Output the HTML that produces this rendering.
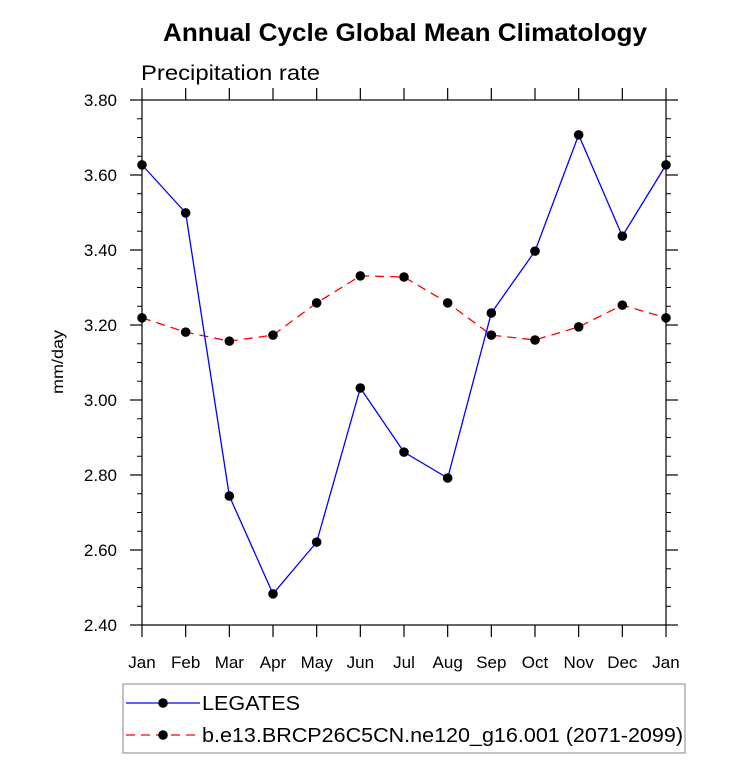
<!DOCTYPE html>
<html><head><meta charset="utf-8"><style>
body{margin:0;background:#fff}
svg text{font-family:"Liberation Sans",sans-serif}
</style></head><body>
<svg id="chart" width="733" height="759" xmlns="http://www.w3.org/2000/svg">
<text x="163" y="41" font-size="25" font-weight="bold" textLength="484" lengthAdjust="spacingAndGlyphs">Annual Cycle Global Mean Climatology</text>
<text x="141" y="80" font-size="21" textLength="179" lengthAdjust="spacingAndGlyphs">Precipitation rate</text>
<text transform="translate(63,362) rotate(-90)" font-size="16" text-anchor="middle" textLength="64" lengthAdjust="spacingAndGlyphs">mm/day</text>
<g id="axes"></g>
<g id="series"></g>
<g>
<rect x="123" y="684" width="562" height="69" fill="none" stroke="#999" stroke-width="1.2"/>
<line x1="126" y1="703" x2="200" y2="703" stroke="#0000ff" stroke-width="1.3"/>
<circle cx="163" cy="703" r="4.8" fill="#000"/>
<text x="202" y="710" font-size="20" textLength="98" lengthAdjust="spacingAndGlyphs">LEGATES</text>
<line x1="126" y1="735" x2="200" y2="735" stroke="#ff0000" stroke-width="1.3" stroke-dasharray="9,6"/>
<circle cx="163" cy="735" r="4.8" fill="#000"/>
<text x="202" y="742" font-size="20" textLength="481" lengthAdjust="spacingAndGlyphs">b.e13.BRCP26C5CN.ne120_g16.001 (2071-2099)</text>
</g>
</svg>
<script>
const months=["Jan","Feb","Mar","Apr","May","Jun","Jul","Aug","Sep","Oct","Nov","Dec","Jan"];
const legates=[3.627,3.499,2.744,2.483,2.621,3.032,2.861,2.792,3.232,3.397,3.707,3.437,3.627];
const model=[3.219,3.181,3.157,3.173,3.259,3.331,3.328,3.259,3.173,3.160,3.195,3.253,3.219];
const yTicks=[2.40,2.60,2.80,3.00,3.20,3.40,3.60,3.80];
const NS="http://www.w3.org/2000/svg";
const X0=142,X1=666,Y0=625,Y1=100,YMIN=2.4,YMAX=3.8;
const xs=i=>X0+(X1-X0)*i/(months.length-1);
const ys=v=>Y0-(v-YMIN)/(YMAX-YMIN)*(Y0-Y1);
function mk(tag,attrs,parent){const e=document.createElementNS(NS,tag);for(const k in attrs)e.setAttribute(k,attrs[k]);parent.appendChild(e);return e;}
const ax=document.getElementById('axes');
const frame=mk('rect',{x:X0,y:Y1,width:X1-X0,height:Y0-Y1,fill:'none',stroke:'#000','stroke-width':1.2},ax);


yTicks.forEach(v=>{
 const y=ys(v);
 mk('line',{x1:X0-12,y1:y,x2:X0,y2:y,stroke:'#000','stroke-width':1.2},ax);
 mk('line',{x1:X1,y1:y,x2:X1+12,y2:y,stroke:'#000','stroke-width':1.2},ax);
 const t=mk('text',{x:117,y:y+6,'font-size':17,'text-anchor':'end'},ax);
 t.textContent=v.toFixed(2);
 
 
});
for(let v=YMIN;v<YMAX-1e-6;v+=0.05){
 const y=ys(v);
 mk('line',{x1:X0-5,y1:y,x2:X0,y2:y,stroke:'#000','stroke-width':1},ax);
 mk('line',{x1:X1,y1:y,x2:X1+5,y2:y,stroke:'#000','stroke-width':1},ax);
}
months.forEach((m,i)=>{
 const x=xs(i);
 mk('line',{x1:x,y1:Y0,x2:x,y2:Y0+12,stroke:'#000','stroke-width':1.2},ax);
 mk('line',{x1:x,y1:Y1-12,x2:x,y2:Y1,stroke:'#000','stroke-width':1.2},ax);
 const t=mk('text',{x:x,y:668,'font-size':17,'text-anchor':'middle'},ax);
 t.textContent=m;
 
 
});
const sg=document.getElementById('series');
function series(vals,color,dash,name){
 const p=mk('polyline',{points:vals.map((v,i)=>xs(i)+','+ys(v)).join(' '),fill:'none',stroke:color,'stroke-width':1.3,'stroke-dasharray':dash},sg);
 
 
 vals.forEach((v,i)=>{
  const c=mk('circle',{cx:xs(i),cy:ys(v),r:4.8,fill:'#000'},sg);
  
  
 });
}
series(model,'#ff0000','9,6','model');
series(legates,'#0000ff','none','legates');
</script>
</body></html>
